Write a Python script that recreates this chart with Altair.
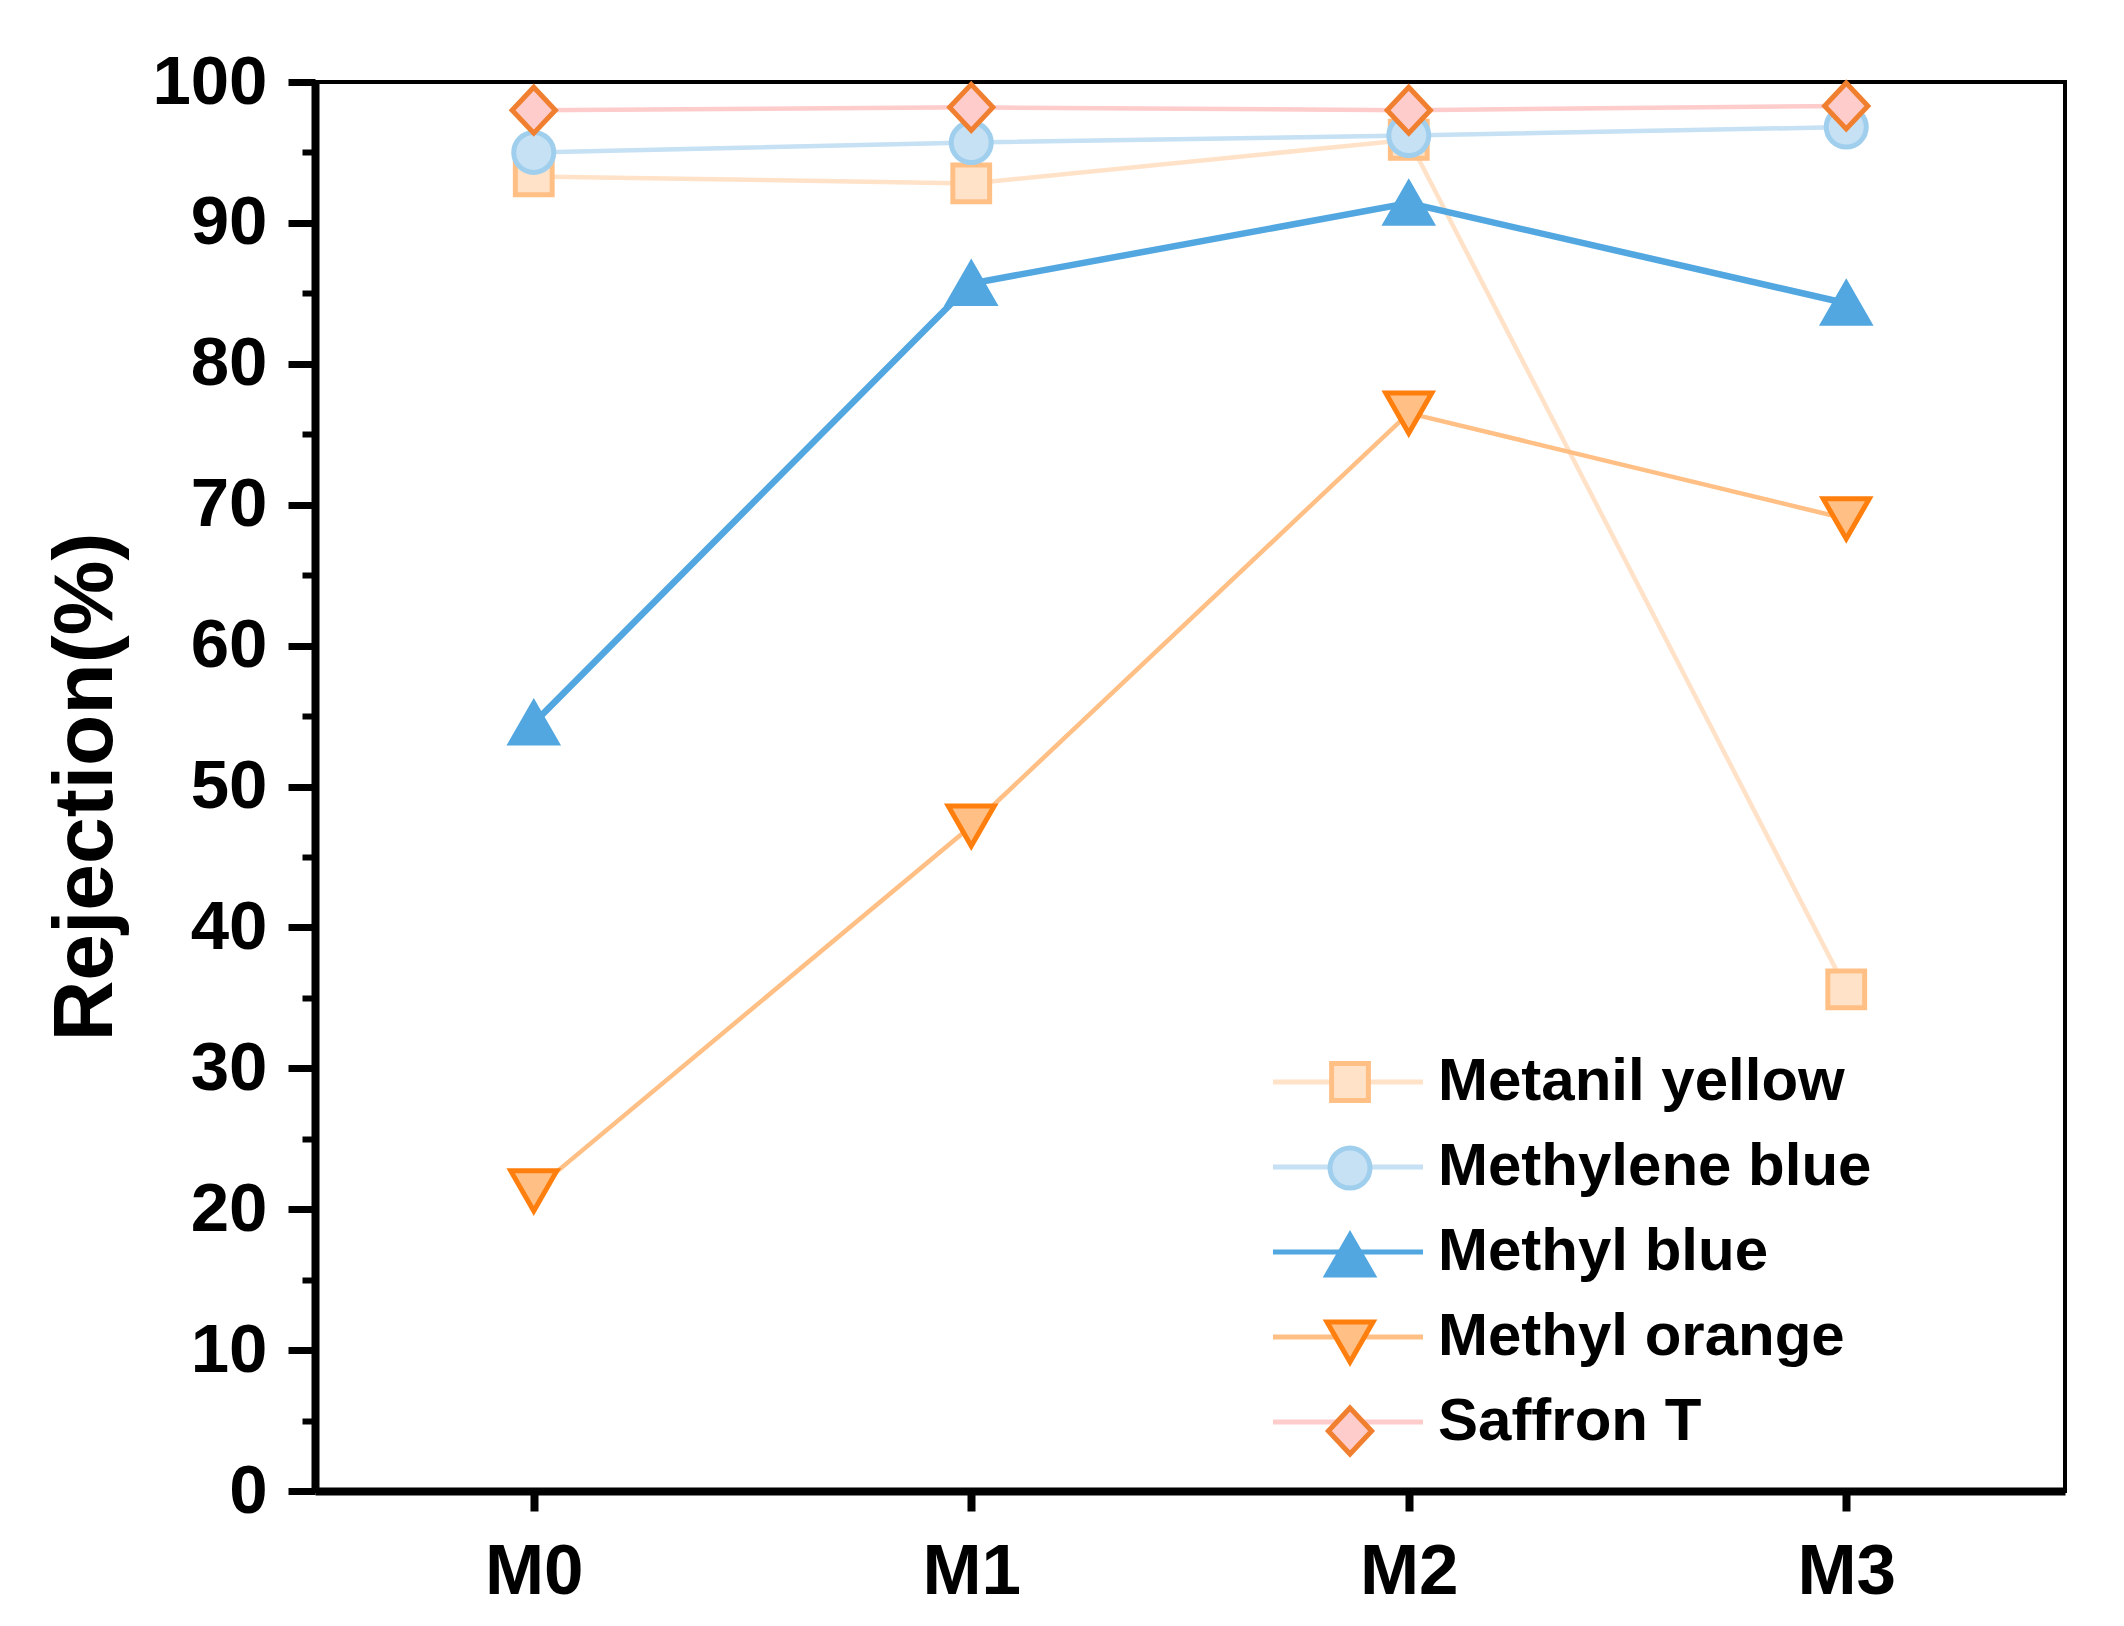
import altair as alt
import pandas as pd

# samples on the x axis and the five dyes
samples = ["M0", "M1", "M2", "M3"]
dyes = ["Metanil yellow", "Methylene blue", "Methyl blue", "Methyl orange", "Saffron T"]

# rejection (%)
metanil_yellow = [93.3, 92.8, 95.9, 35.6]
methylene_blue = [95.0, 95.7, 96.2, 96.8]
methyl_blue = [54.5, 85.7, 91.4, 84.3]
methyl_orange = [21.3, 47.2, 76.5, 69.0]
saffron_t = [98.0, 98.2, 98.0, 98.3]

line_colors = ["#FFE2C8", "#C6E0F4", "#52A7E0", "#FFBF85", "#FFCCCC"]
fill_colors = ["#FFE2C8", "#C6E0F4", "#52A7E0", "#FFBF85", "#FFCCCC"]
stroke_colors = ["#FFBF85", "#A0CFEE", "#52A7E0", "#FF7F0E", "#F08030"]
shapes = [
    "M-0.8,-0.8L0.8,-0.8L0.8,0.8L-0.8,0.8Z",
    "M0.87,0A0.87,0.87 0 1,1 -0.87,0A0.87,0.87 0 1,1 0.87,0Z",
    "M0,-0.87L1,0.87L-1,0.87Z",
    "M-1,-0.87L1,-0.87L0,0.87Z",
    "M0,-1L0.94,0L0,1L-0.94,0Z",
]

rows = []
for dye, vals in zip(dyes, [metanil_yellow, methylene_blue, methyl_blue, methyl_orange, saffron_t]):
    for s, v in zip(samples, vals):
        rows.append({"Sample": s, "Dye": dye, "Rejection": v})
df = pd.DataFrame(rows)

font = "Liberation Sans"

x = alt.X("Sample:N", sort=samples, title=None,
          scale=alt.Scale(type="point", padding=0.5),
          axis=alt.Axis(labelAngle=0, labelFont=font, labelFontWeight="bold", labelFontSize=71,
                        labelColor="black", labelPadding=26, tickSize=20, tickWidth=8,
                        tickColor="black", domainColor="black", domainWidth=8, grid=False))

yscale = alt.Scale(domain=[0, 100], nice=False, zero=True)

legend_common = dict(title=None, orient="none", labelFont=font, labelFontWeight="bold",
                     labelFontSize=60, labelColor="black", labelLimit=1000, rowPadding=25,
                     padding=0, symbolStrokeWidth=5, legendY=970)

lines = alt.Chart(df).mark_line().encode(
    x=x,
    y=alt.Y("Rejection:Q", scale=yscale,
            axis=alt.Axis(orient="left", values=list(range(0, 101, 10)), title="Rejection(%)",
                          titleFont=font, titleFontWeight="bold", titleFontSize=84,
                          titleColor="black", titlePadding=22,
                          labelFont=font, labelFontWeight="bold", labelFontSize=69,
                          labelColor="black", labelPadding=21, tickSize=27, tickWidth=7,
                          tickColor="black", domainColor="black", domainWidth=8, grid=False)),
    color=alt.Color("Dye:N", scale=alt.Scale(domain=dyes, range=line_colors),
                    legend=alt.Legend(symbolType="M-5,0L5,0", symbolSize=900, labelOffset=60,
                                      legendX=1003, **legend_common)),
    strokeWidth=alt.condition(alt.datum.Dye == "Methyl blue", alt.value(6.5), alt.value(4.5)),
    order="Sample:N",
)

marker_legend = alt.Legend(symbolSize=2116, labelOffset=16, labelExpr="''",
                           legendX=1005, **legend_common)

points = alt.Chart(df).mark_point(opacity=1, size=2116, strokeWidth=5).encode(
    x=x,
    y=alt.Y("Rejection:Q", scale=yscale,
            axis=alt.Axis(orient="left", values=list(range(5, 100, 10)), title=None,
                          labels=False, domain=False, grid=False, tickSize=13, tickWidth=6,
                          tickColor="black")),
    fill=alt.Fill("Dye:N", scale=alt.Scale(domain=dyes, range=fill_colors), legend=marker_legend),
    stroke=alt.Stroke("Dye:N", scale=alt.Scale(domain=dyes, range=stroke_colors), legend=marker_legend),
    shape=alt.Shape("Dye:N", scale=alt.Scale(domain=dyes, range=shapes), legend=marker_legend),
)

chart = alt.layer(lines, points).resolve_axis(y="independent").resolve_legend(
    color="independent", fill="independent", stroke="independent", shape="independent"
).properties(
    width=1750, height=1409,
    autosize=alt.AutoSizeParams(type="none"),
    padding={"left": 307, "top": 74, "right": 51, "bottom": 127},
    background="white",
).configure_view(stroke="black", strokeWidth=4)

chart.save("out.html", embed_options={"renderer": "svg", "actions": False})
